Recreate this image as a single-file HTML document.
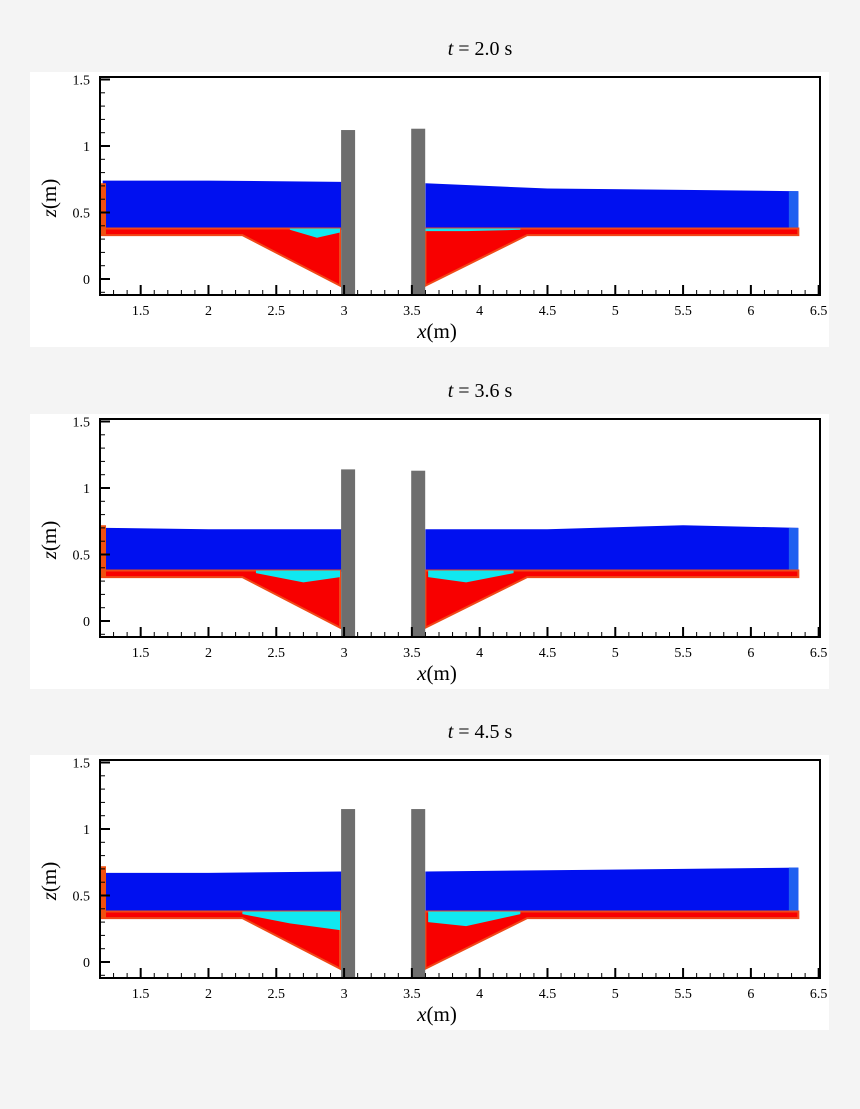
<!DOCTYPE html>
<html><head><meta charset="utf-8"><style>
html,body{margin:0;padding:0;background:#f4f4f4;}
svg{display:block;font-family:"Liberation Serif",serif;}
</style></head><body>
<svg id="c" width="860" height="1109" xmlns="http://www.w3.org/2000/svg"></svg>
<script>
const titles=["2.0","3.6","4.5"];
const panelOffsets=[0,342,683];
const surfaceX=[1.25,2,2.98,3.6,4.5,5.5,6.35];
const surfaceZ1=[0.74,0.74,0.73,0.72,0.68,0.67,0.66];
const surfaceZ2=[0.70,0.69,0.69,0.69,0.69,0.72,0.70];
const surfaceZ3=[0.67,0.67,0.68,0.68,0.69,0.70,0.71];
const surfaces=[surfaceZ1,surfaceZ2,surfaceZ3];
const pillarTop=[1.12,1.14,1.15];
const pillarTopR=[1.13,1.13,1.15];
const cyanLX1=[2.6,2.8,2.97],cyanLZ1=[0.37,0.31,0.35];
const cyanLX2=[2.35,2.7,2.97],cyanLZ2=[0.36,0.29,0.33];
const cyanLX3=[2.25,2.6,2.97],cyanLZ3=[0.36,0.29,0.24];
const cyanRX1=[3.6,3.9,4.3],cyanRZ1=[0.36,0.36,0.37];
const cyanRX2=[3.62,3.9,4.25],cyanRZ2=[0.33,0.29,0.36];
const cyanRX3=[3.62,3.9,4.3],cyanRZ3=[0.30,0.27,0.36];
const cyanL=[[cyanLX1,cyanLZ1],[cyanLX2,cyanLZ2],[cyanLX3,cyanLZ3]];
const cyanR=[[cyanRX1,cyanRZ1],[cyanRX2,cyanRZ2],[cyanRX3,cyanRZ3]];
const xTicks=[1.5,2,2.5,3,3.5,4,4.5,5,5.5,6,6.5];
const xTickLabels=["1.5","2","2.5","3","3.5","4","4.5","5","5.5","6","6.5"];
const zTicks=[0,0.5,1,1.5];
const zTickLabels=["0","0.5","1","1.5"];
const bedTop=0.38,bedBot=0.33,holeBot=-0.05;

const NS="http://www.w3.org/2000/svg";
const svg=document.getElementById('c');
function mk(tag,attrs,parent){const e=document.createElementNS(NS,tag);for(const k in attrs)e.setAttribute(k,attrs[k]);(parent||svg).appendChild(e);return e;}
const X=x=>100+(x-1.2)*135.6;
for(let p=0;p<3;p++){
  const dy=panelOffsets[p];
  const Z=z=>279-z*133+dy;
  const g=mk('g',{});
  
  
  const bg=mk('rect',{x:30,y:72+dy,width:799,height:275,fill:'#fff'},g);
  
  
  const t=mk('text',{x:480,y:55+dy,'font-size':20,'text-anchor':'middle'},g);
  t.innerHTML='<tspan font-style="italic">t</tspan> = '+titles[p]+' s';
  
  
  // water left
  const sz=surfaces[p];
  let pl=[[1.22,sz[0]]];
  for(let i=0;i<3;i++)pl.push([surfaceX[i],sz[i]]);
  pl.push([2.98,0.37],[1.22,0.37]);
  const wl=mk('polygon',{points:pl.map(q=>X(q[0])+','+Z(q[1])).join(' '),fill:'#0010f0'},g);
  
  
  let pr=[];
  for(let i=3;i<surfaceX.length;i++)pr.push([surfaceX[i],sz[i]]);
  pr.push([6.35,0.37],[3.6,0.37]);
  const wr=mk('polygon',{points:pr.map(q=>X(q[0])+','+Z(q[1])).join(' '),fill:'#0010f0'},g);
  
  
  mk('rect',{x:X(6.28),y:Z(sz[6]),width:X(6.35)-X(6.28),height:Z(0.38)-Z(sz[6]),fill:'#2060f0'},g);
  // bed
  const bl=[[1.2,bedTop],[2.97,bedTop],[2.97,holeBot],[2.25,bedBot],[1.2,bedBot]];
  const br=[[3.6,bedTop],[6.35,bedTop],[6.35,bedBot],[4.35,bedBot],[3.6,holeBot]];
  [bl,br].forEach((bp,k)=>{
    const bed=mk('polygon',{points:bp.map(q=>X(q[0])+','+Z(q[1])).join(' '),fill:'#f80000',stroke:'#f04818','stroke-width':2},g);
    
    
  });
  // cyan
  [cyanL[p],cyanR[p]].forEach((c,k)=>{
    const xs=c[0],zs=c[1];
    let s=xs.map((x,i)=>X(x)+','+Z(zs[i])).join(' ');
    s+=' '+X(xs[xs.length-1])+','+Z(bedTop)+' '+X(xs[0])+','+Z(bedTop);
    const cy=mk('polygon',{points:s,fill:'#10e8f0'},g);
    
    
  });
  mk('rect',{x:X(1.2),y:Z(0.72),width:6,height:Z(0.33)-Z(0.72),fill:'#f05010'},g);
  // pillars
  const pL=mk('rect',{x:X(2.978),y:Z(pillarTop[p]),width:14,height:295+dy-Z(pillarTop[p]),fill:'#6e6e6e'},g);
  
  
  const pR=mk('rect',{x:X(3.495),y:Z(pillarTopR[p]),width:14,height:295+dy-Z(pillarTopR[p]),fill:'#6e6e6e'},g);
  
  
  // frame
  const fr=mk('rect',{x:100,y:77+dy,width:720,height:218,fill:'none',stroke:'#000','stroke-width':2},g);
  
  
  for(let v=1.3;v<6.55;v+=0.1){const maj=Math.abs(v*2-Math.round(v*2))<0.01;
    mk('line',{x1:X(v),x2:X(v),y1:295+dy,y2:295+dy-(maj?10:5),stroke:'#000','stroke-width':maj?2:1},g);}
  for(let v=-0.1;v<1.55;v+=0.1){const maj=Math.abs(v*2-Math.round(v*2))<0.01;
    mk('line',{x1:100,x2:100+(maj?10:5),y1:Z(v),y2:Z(v),stroke:'#000','stroke-width':maj?2:1},g);}
  xTicks.forEach((v,i)=>{const l=mk('text',{x:X(v),y:315+dy,'font-size':14,'text-anchor':'middle'},g);l.textContent=xTickLabels[i];
    
    });
  zTicks.forEach((v,i)=>{const l=mk('text',{x:90,y:Z(v)+5,'font-size':14,'text-anchor':'end'},g);l.textContent=zTickLabels[i];
    
    });
  const xt=mk('text',{x:437,y:338+dy,'font-size':21,'text-anchor':'middle'},g);
  xt.innerHTML='<tspan font-style="italic">x</tspan>(m)';
  
  
  const zt=mk('text',{x:0,y:0,'font-size':21,'text-anchor':'middle',transform:'translate(56,'+(198+dy)+') rotate(-90)'},g);
  zt.innerHTML='<tspan font-style="italic">z</tspan>(m)';
  
  
}
</script>
</body></html>
